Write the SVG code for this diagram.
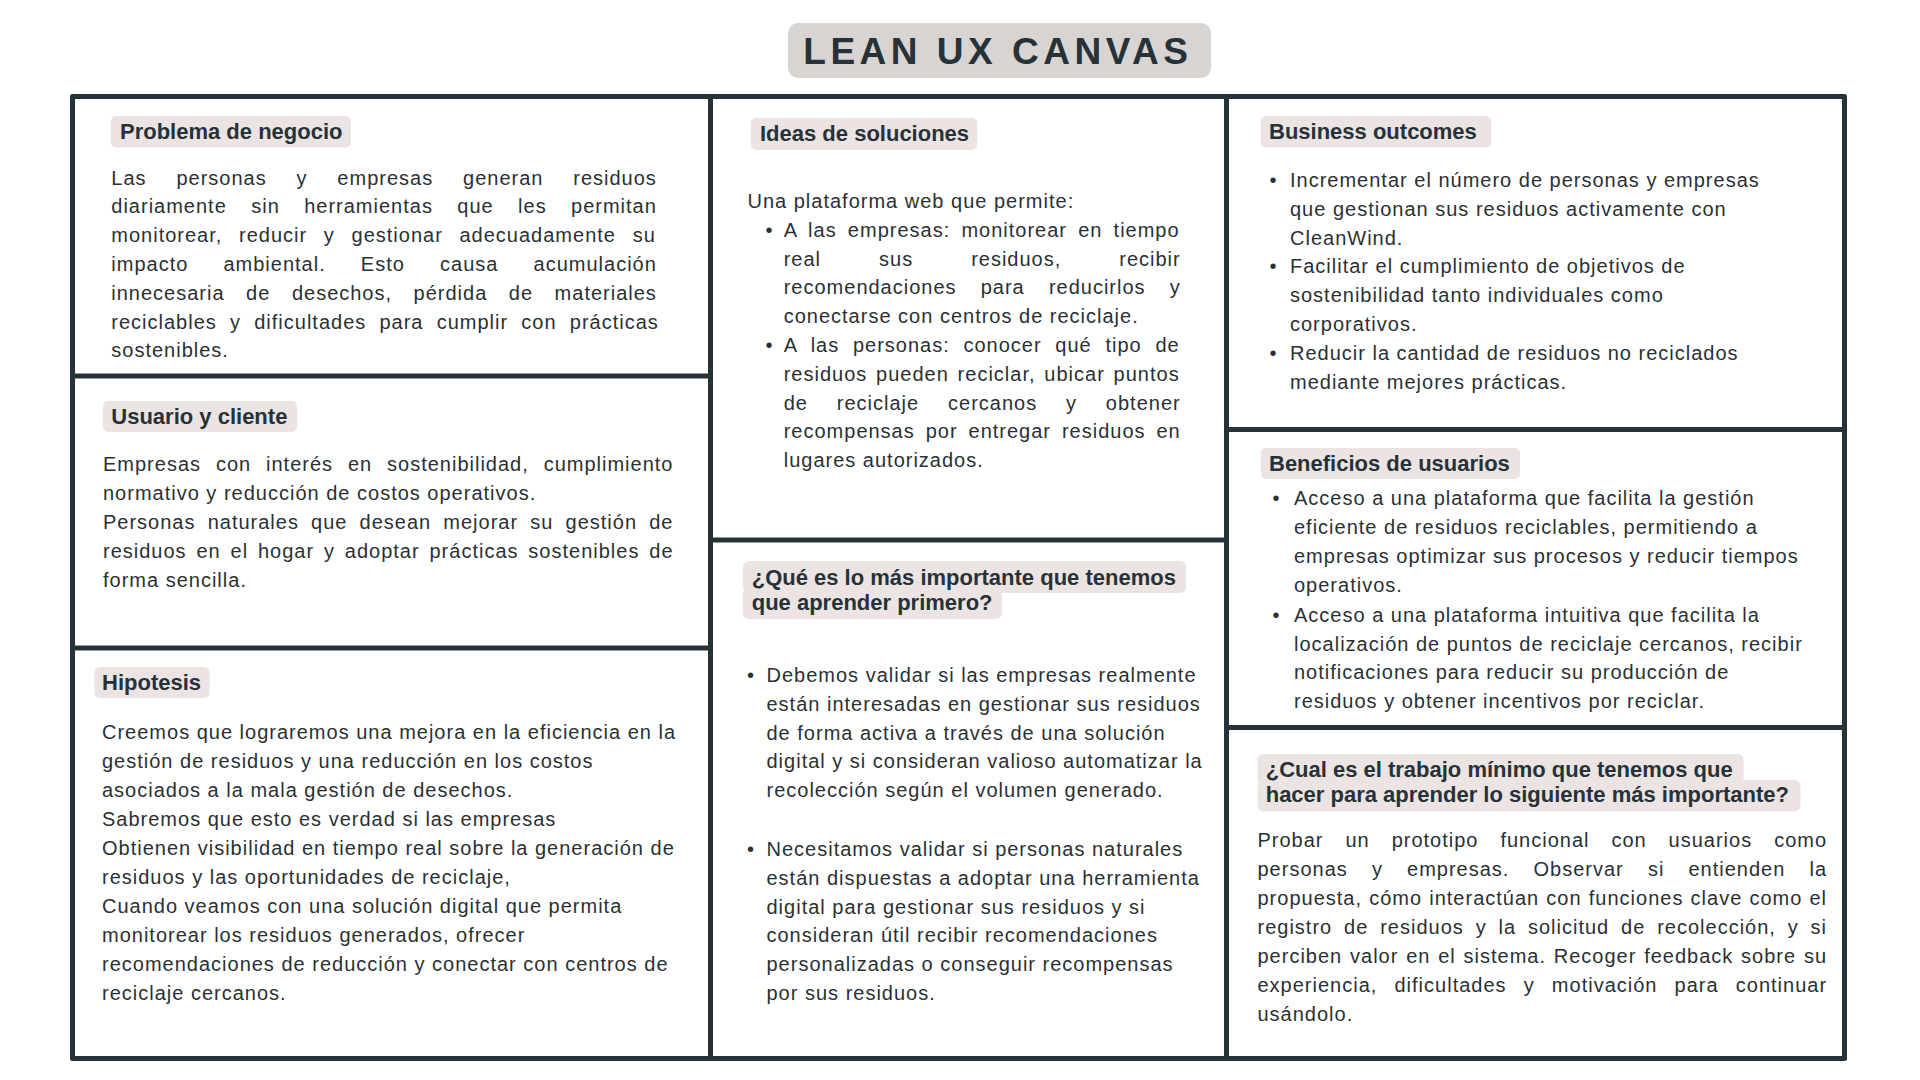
<svg xmlns="http://www.w3.org/2000/svg" width="1920" height="1080" viewBox="0 0 1920 1080">
<style>
.h{font-family:"Liberation Sans",Arial,sans-serif;font-weight:bold;font-size:22px;fill:#263238}
.b{font-family:"Liberation Sans",Arial,sans-serif;font-size:20px;letter-spacing:1px;fill:#2b3033}
.dot{font-family:"Liberation Sans",Arial,sans-serif;font-size:20px;fill:#2b3033;text-anchor:middle}
.pill{fill:#ebe4e2}
.ln{stroke:#263238;stroke-width:5;fill:none;stroke-linecap:round;stroke-linejoin:round}
</style>
<rect width="1920" height="1080" fill="#ffffff"/>

<g id="title">
<rect x="788" y="23" width="423" height="55" rx="10" fill="#d7d4d2"/>
<text x="803.3" y="64.3" style="font-family:'Liberation Sans',Arial,sans-serif;font-weight:bold;font-size:37px;letter-spacing:4.5px;fill:#263238">LEAN UX CANVAS</text>
</g>

<g id="grid">
<rect class="ln" x="72.5" y="96.5" width="1772" height="962"/>
<line class="ln" x1="710.5" y1="96.5" x2="710.5" y2="1058.5"/>
<line class="ln" x1="1226.5" y1="96.5" x2="1226.5" y2="1058.5"/>
<line class="ln" x1="72.5" y1="376" x2="710.5" y2="376"/>
<line class="ln" x1="72.5" y1="648" x2="710.5" y2="648"/>
<line class="ln" x1="710.5" y1="540" x2="1226.5" y2="540"/>
<line class="ln" x1="1226.5" y1="429.5" x2="1844.5" y2="429.5"/>
<line class="ln" x1="1226.5" y1="727.5" x2="1844.5" y2="727.5"/>
</g>

<g id="problema">
<rect class="pill" x="111" y="116" width="240" height="31.5" rx="5"/>
<text class="h" x="120" y="139">Problema de negocio</text>
<text class="b">
<tspan x="111.3" y="184.5" style="word-spacing:23.29px">Las personas y empresas generan residuos</tspan>
<tspan x="111.3" y="213.3" style="word-spacing:17.85px">diariamente sin herramientas que les permitan</tspan>
<tspan x="111.3" y="242.1" style="word-spacing:10.13px">monitorear, reducir y gestionar adecuadamente su</tspan>
<tspan x="111.3" y="270.9" style="word-spacing:28.58px">impacto ambiental. Esto causa acumulación</tspan>
<tspan x="111.3" y="299.7" style="word-spacing:14.97px">innecesaria de desechos, pérdida de materiales</tspan>
<tspan x="111.3" y="328.5" style="word-spacing:6.65px">reciclables y dificultades para cumplir con prácticas</tspan>
<tspan x="111.3" y="357.3">sostenibles.</tspan>
</text>
</g>

<g id="usuario">
<rect class="pill" x="103" y="401" width="194" height="31" rx="5"/>
<text class="h" x="111.3" y="424">Usuario y cliente</text>
<text class="b">
<tspan x="103" y="471.4" style="word-spacing:8.31px">Empresas con interés en sostenibilidad, cumplimiento</tspan>
<tspan x="103" y="500.2">normativo y reducción de costos operativos.</tspan>
<tspan x="103" y="529" style="word-spacing:5.59px">Personas naturales que desean mejorar su gestión de</tspan>
<tspan x="103" y="557.8" style="word-spacing:3.29px">residuos en el hogar y adoptar prácticas sostenibles de</tspan>
<tspan x="103" y="586.6">forma sencilla.</tspan>
</text>
</g>

<g id="hipotesis">
<rect class="pill" x="94.5" y="667" width="115" height="31" rx="5"/>
<text class="h" x="102" y="690">Hipotesis</text>
<text class="b">
<tspan x="102" y="739">Creemos que lograremos una mejora en la eficiencia en la</tspan>
<tspan x="102" y="768">gestión de residuos y una reducción en los costos</tspan>
<tspan x="102" y="797">asociados a la mala gestión de desechos.</tspan>
<tspan x="102" y="826">Sabremos que esto es verdad si las empresas</tspan>
<tspan x="102" y="855">Obtienen visibilidad en tiempo real sobre la generación de</tspan>
<tspan x="102" y="884">residuos y las oportunidades de reciclaje,</tspan>
<tspan x="102" y="913">Cuando veamos con una solución digital que permita</tspan>
<tspan x="102" y="942">monitorear los residuos generados, ofrecer</tspan>
<tspan x="102" y="971">recomendaciones de reducción y conectar con centros de</tspan>
<tspan x="102" y="1000">reciclaje cercanos.</tspan>
</text>
</g>

<g id="ideas">
<rect class="pill" x="751" y="118" width="226" height="32" rx="5"/>
<text class="h" x="760" y="141">Ideas de soluciones</text>
<text class="b" x="747.5" y="208">Una plataforma web que permite:</text>
<text class="dot" x="768.9" y="236.8">•</text>
<text class="dot" x="768.9" y="352">•</text>
<text class="b">
<tspan x="783.7" y="236.8" style="word-spacing:4.62px">A las empresas: monitorear en tiempo</tspan>
<tspan x="783.7" y="265.6" style="word-spacing:51.43px">real sus residuos, recibir</tspan>
<tspan x="783.7" y="294.4" style="word-spacing:17.59px">recomendaciones para reducirlos y</tspan>
<tspan x="783.7" y="323.2">conectarse con centros de reciclaje.</tspan>
<tspan x="783.7" y="352" style="word-spacing:7.16px">A las personas: conocer qué tipo de</tspan>
<tspan x="783.7" y="380.8" style="word-spacing:2.24px">residuos pueden reciclar, ubicar puntos</tspan>
<tspan x="783.7" y="409.6" style="word-spacing:22.3px">de reciclaje cercanos y obtener</tspan>
<tspan x="783.7" y="438.4" style="word-spacing:4.38px">recompensas por entregar residuos en</tspan>
<tspan x="783.7" y="467.2">lugares autorizados.</tspan>
</text>
</g>

<g id="aprender">
<rect class="pill" x="743" y="561" width="443" height="32" rx="6"/>
<rect class="pill" x="743" y="588" width="259" height="31" rx="6"/>
<text class="h">
<tspan x="751.7" y="584.6">¿Qué es lo más importante que tenemos</tspan>
<tspan x="751.7" y="609.6">que aprender primero?</tspan>
</text>
<text class="dot" x="750.6" y="682">•</text>
<text class="dot" x="750.6" y="856">•</text>
<text class="b">
<tspan x="766.5" y="682">Debemos validar si las empresas realmente</tspan>
<tspan x="766.5" y="710.8">están interesadas en gestionar sus residuos</tspan>
<tspan x="766.5" y="739.6">de forma activa a través de una solución</tspan>
<tspan x="766.5" y="768.4">digital y si consideran valioso automatizar la</tspan>
<tspan x="766.5" y="797.2">recolección según el volumen generado.</tspan>
<tspan x="766.5" y="856">Necesitamos validar si personas naturales</tspan>
<tspan x="766.5" y="884.8">están dispuestas a adoptar una herramienta</tspan>
<tspan x="766.5" y="913.6">digital para gestionar sus residuos y si</tspan>
<tspan x="766.5" y="942.4">consideran útil recibir recomendaciones</tspan>
<tspan x="766.5" y="971.2">personalizadas o conseguir recompensas</tspan>
<tspan x="766.5" y="1000">por sus residuos.</tspan>
</text>
</g>

<g id="business">
<rect class="pill" x="1261" y="116" width="230" height="31.5" rx="5"/>
<text class="h" x="1269" y="139.3">Business outcomes</text>
<text class="dot" x="1273" y="186.7">•</text>
<text class="dot" x="1273" y="273.4">•</text>
<text class="dot" x="1273" y="360.1">•</text>
<text class="b">
<tspan x="1290" y="186.7">Incrementar el número de personas y empresas</tspan>
<tspan x="1290" y="215.6">que gestionan sus residuos activamente con</tspan>
<tspan x="1290" y="244.5">CleanWind.</tspan>
<tspan x="1290" y="273.4">Facilitar el cumplimiento de objetivos de</tspan>
<tspan x="1290" y="302.3">sostenibilidad tanto individuales como</tspan>
<tspan x="1290" y="331.2">corporativos.</tspan>
<tspan x="1290" y="360.1">Reducir la cantidad de residuos no reciclados</tspan>
<tspan x="1290" y="389">mediante mejores prácticas.</tspan>
</text>
</g>

<g id="beneficios">
<rect class="pill" x="1261" y="448" width="259" height="31" rx="5"/>
<text class="h" x="1269" y="470.5">Beneficios de usuarios</text>
<text class="dot" x="1276" y="505">•</text>
<text class="dot" x="1276" y="621.5">•</text>
<text class="b">
<tspan x="1294" y="505">Acceso a una plataforma que facilita la gestión</tspan>
<tspan x="1294" y="534.1">eficiente de residuos reciclables, permitiendo a</tspan>
<tspan x="1294" y="563.2">empresas optimizar sus procesos y reducir tiempos</tspan>
<tspan x="1294" y="592.3">operativos.</tspan>
<tspan x="1294" y="621.5">Acceso a una plataforma intuitiva que facilita la</tspan>
<tspan x="1294" y="650.5">localización de puntos de reciclaje cercanos, recibir</tspan>
<tspan x="1294" y="679.4">notificaciones para reducir su producción de</tspan>
<tspan x="1294" y="708.3">residuos y obtener incentivos por reciclar.</tspan>
</text>
</g>

<g id="trabajo">
<rect class="pill" x="1257.5" y="754" width="486" height="30" rx="6"/>
<rect class="pill" x="1257.5" y="780" width="543" height="31.5" rx="6"/>
<text class="h">
<tspan x="1265.7" y="777.3">¿Cual es el trabajo mínimo que tenemos que</tspan>
<tspan x="1265.7" y="802.3">hacer para aprender lo siguiente más importante?</tspan>
</text>
<text class="b">
<tspan x="1257.5" y="847.3" style="word-spacing:15.38px">Probar un prototipo funcional con usuarios como</tspan>
<tspan x="1257.5" y="876.2" style="word-spacing:17.57px">personas y empresas. Observar si entienden la</tspan>
<tspan x="1257.5" y="905.1" style="word-spacing:0.61px">propuesta, cómo interactúan con funciones clave como el</tspan>
<tspan x="1257.5" y="934" style="word-spacing:5.31px">registro de residuos y la solicitud de recolección, y si</tspan>
<tspan x="1257.5" y="962.9" style="word-spacing:1.23px">perciben valor en el sistema. Recoger feedback sobre su</tspan>
<tspan x="1257.5" y="991.8" style="word-spacing:10.6px">experiencia, dificultades y motivación para continuar</tspan>
<tspan x="1257.5" y="1020.7">usándolo.</tspan>
</text>
</g>
</svg>
